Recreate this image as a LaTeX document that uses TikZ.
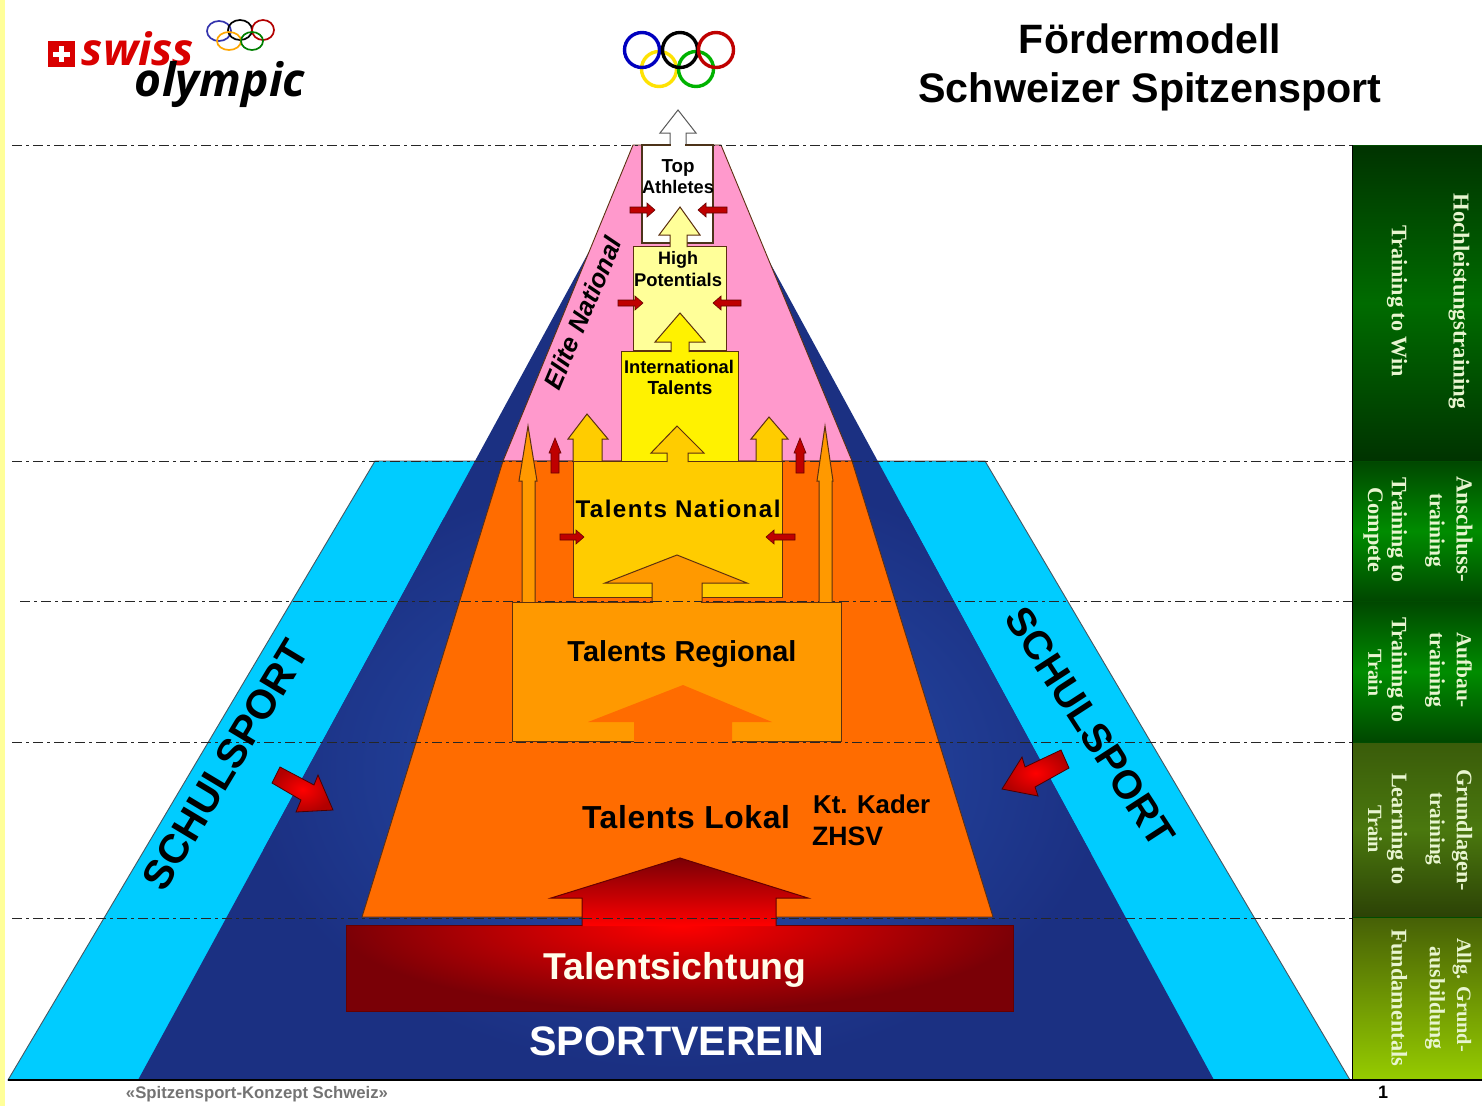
\documentclass[tikz,border=0pt]{standalone}
\usepackage{fontspec}
\usepackage{graphicx}
\setmainfont{Liberation Sans}
\setsansfont{Liberation Sans}
\newfontfamily\serifside{Liberation Serif}
\newfontfamily\logofont{Open Sans}
\definecolor{cyanband}{HTML}{00CCFF}
\definecolor{navybase}{HTML}{1B3082}
\definecolor{navyglow}{HTML}{2850B0}
\definecolor{pinkzone}{HTML}{FF99CC}
\definecolor{orangezone}{HTML}{FF6C00}
\definecolor{brownline}{HTML}{5C3010}
\definecolor{cream}{HTML}{FFFF99}
\definecolor{goldbox}{HTML}{FFCC00}
\definecolor{ambbox}{HTML}{FF9900}
\definecolor{darkred}{HTML}{7A0006}
\definecolor{sidetext}{HTML}{E8F5D0}
\definecolor{edgeyellow}{HTML}{FFFF99}
\newcommand{\fw}[2]{\resizebox{#1pt}{!}{\vphantom{Ag}#2}}
% block arrow: style, tip x, tip y, base y, head left, head right, shaft left, shaft right, end y
\newcommand{\blockarrow}[9]{\filldraw[#1] (#7,#9) -- (#7,#4) -- (#5,#4) -- (#2,#3) -- (#6,#4) -- (#8,#4) -- (#8,#9);}
\newcommand{\redh}[4]{\filldraw[smallred] (#1,#3-3) -- (#2+#4,#3-3) -- (#2+#4,#3-7) -- (#2,#3) -- (#2+#4,#3+7) -- (#2+#4,#3+3) -- (#1,#3+3) -- cycle;}
\newcommand{\sidetxt}[5]{\node[sidelabel] (#1) at (#2,#3) {\fw{#4}{#5}};}
\tikzset{
  x=1pt,y=-1pt,
  boxline/.style={draw=brownline,line width=1pt},
  arrowline/.style={draw=brownline,line width=1pt,line join=miter},
  smallred/.style={fill=red!75!black,draw=black!60!red,line width=.6pt},
  bigred/.style={draw=black!70!red,line width=.8pt,inner color=red,outer color=red!70!black},
  levelline/.style={black!85,line width=.8pt,dash pattern=on 10pt off 4pt on 3pt off 4pt},
  rlbl/.style={inner sep=0pt,font=\bfseries},
  lbl/.style={rlbl,yshift=-3pt},
  sidelabel/.style={inner sep=0pt,rotate=-90,text=sidetext,font=\serifside\bfseries},
  ringbig/.style={line width=3.4pt},
  ringsmall/.style={line width=1.7pt},
}
\begin{document}
\begin{tikzpicture}
\useasboundingbox (0,0) rectangle (1482,1106);
\fill[white] (0,0) rectangle (1482,1106);
\fill[edgeyellow] (0,0) rectangle (5,1106);

% zones
\filldraw[fill=cyanband,draw=black!70!cyan,line width=.9pt] (8,1080) -- (375,461) -- (985,461) -- (1350,1080) -- cycle;
\begin{scope}
  \clip (138,1080) -- (647,145) -- (706,145) -- (1214,1080) -- cycle;
  \fill[navybase] (100,100) rectangle (1250,1100);
  \shade[inner color=navyglow,outer color=navybase] (678,770) ellipse [x radius=430,y radius=300];
\end{scope}
\filldraw[fill=pinkzone,draw=brownline,line width=.9pt] (503,461) -- (633,145) -- (721,145) -- (852,461) -- cycle;
\filldraw[fill=orangezone,draw=brownline,line width=.9pt] (362,917) -- (503,461) -- (852,461) -- (993,917) -- cycle;

% level lines
\draw[levelline] (12,145) -- (1352,145);
\draw[levelline] (12,461) -- (1352,461);
\draw[levelline] (20,601) -- (1352,601);
\draw[levelline] (12,742) -- (1352,742);
\draw[levelline] (12,918) -- (1352,918);

% Top Athletes
\blockarrow{fill=white,draw=black!65,line width=1pt}{678}{110}{133}{660}{696}{670}{686}{145}
\filldraw[fill=white,draw=black!60!brown,line width=1.2pt] (642,145) rectangle (713,243);
\fill[white] (671,144) rectangle (685,147);
% High Potentials
\filldraw[fill=cream,boxline] (633,246) rectangle (726,350);
\blockarrow{fill=cream,arrowline}{680}{207}{235}{659}{700}{670}{687}{247}
% International Talents
\filldraw[fill=yellow,boxline] (621,351) rectangle (738,461);
\blockarrow{fill=yellow,arrowline}{680}{313}{342}{655}{705}{671}{689}{352}
% side arrows to the elite zone
\blockarrow{fill=goldbox,arrowline}{587}{414}{439}{568}{608}{573}{602}{462}
\blockarrow{fill=goldbox,arrowline}{769}{417}{439}{751}{788}{756}{782}{462}
% Talents National
\filldraw[fill=goldbox,boxline] (573,461) rectangle (782,597);
\blockarrow{fill=goldbox,arrowline}{677}{426}{453}{651}{704}{667}{688}{462}
\blockarrow{fill=ambbox,arrowline}{528}{426}{481}{519}{537}{522}{535}{602}
\blockarrow{fill=ambbox,arrowline}{825}{426}{481}{817}{833}{819}{832}{602}
% Talents Regional
\blockarrow{fill=ambbox,arrowline}{677}{555}{583}{605}{747}{652}{702}{603}
\filldraw[fill=ambbox,boxline] (512,602) rectangle (841,741);
\fill[ambbox] (653,600) rectangle (701,604);
\fill[orangezone] (588,722) -- (683,685) -- (772,722) -- (732,722) -- (732,743) -- (634,743) -- (634,722) -- cycle;

% Talentsichtung
\begin{scope}
  \clip (346,925) rectangle (1013,1011);
  \fill[darkred] (346,925) rectangle (1013,1011);
  \shade[inner color=red,outer color=darkred] (680,925) ellipse [x radius=340,y radius=86];
\end{scope}
\draw[draw=black!60!red,line width=1pt] (346,925) rectangle (1013,1011);
\shade[top color=darkred,bottom color=red] (680,858) -- (808,898) -- (776,898) -- (776,926) -- (582,926) -- (582,898) -- (551,898) -- cycle;
\draw[black!60!red,line width=1pt] (582,926) -- (582,898) -- (551,898) -- (680,858) -- (808,898) -- (776,898) -- (776,926);

% redraw the lines that show through
\draw[levelline] (582,918) -- (776,918);
\draw[levelline] (652,601) -- (702,601);
\draw[levelline] (634,742) -- (732,742);

% small red arrows
\redh{630}{655}{210}{-8}
\redh{727}{698}{210}{8}
\redh{618}{643}{303}{-8}
\redh{741}{713}{303}{8}
\redh{560}{584}{537}{-8}
\redh{795}{766}{537}{8}
\filldraw[smallred] (551,473) -- (551,453) -- (549,453) -- (555,438) -- (561,453) -- (559,453) -- (559,473) -- cycle;
\filldraw[smallred] (796,473) -- (796,453) -- (794,453) -- (800,438) -- (806,453) -- (804,453) -- (804,473) -- cycle;

% large red arrows
\shade[bigred] (280,767) -- (314,785) -- (318,775) -- (333,810) -- (296,812) -- (301,800) -- (272,783) -- cycle;
\shade[bigred] (1061,750) -- (1069,768) -- (1035,787) -- (1038,796) -- (1002,789) -- (1022,757) -- (1025,767) -- cycle;

% side column
\shade[top color=green!20!black,bottom color=green!20!black,middle color=green!42!black] (1352,145) rectangle (1482,461);
\shade[top color=green!28!black,bottom color=green!28!black,middle color=green!55!black] (1352,461) rectangle (1482,601);
\shade[top color=green!28!black,bottom color=green!28!black,middle color=green!55!black] (1352,601) rectangle (1482,742);
\shade[top color={rgb,255:red,58;green,92;blue,10},bottom color={rgb,255:red,44;green,66;blue,6},middle color={rgb,255:red,74;green,120;blue,14}] (1352,742) rectangle (1482,917);
\shade[top color={rgb,255:red,70;green,96;blue,6},bottom color={rgb,255:red,150;green,204;blue,0}] (1352,917) rectangle (1482,1080);
\foreach \yy in {145,461,601,742,917}{\draw[black!70!green,line width=.9pt] (1352,\yy) -- (1482,\yy);}
\draw[black,line width=1pt] (1352,145) -- (1352,1080);
\draw[black,line width=1.2pt] (8,1080) -- (1482,1080);

\sidetxt{s1a}{1459}{301}{215}{Hochleistungstraining}
\sidetxt{s1b}{1397}{301}{152}{Training to Win}
\sidetxt{s2a}{1462}{529}{106}{Anschluss-}
\sidetxt{s2b}{1435}{530}{74}{training}
\sidetxt{s2c}{1397}{530}{105}{Training to}
\sidetxt{s2d}{1373}{530}{85}{Compete}
\sidetxt{s3a}{1462}{670}{76}{Aufbau-}
\sidetxt{s3b}{1435}{670}{75}{training}
\sidetxt{s3c}{1397}{670}{105}{Training to}
\sidetxt{s3d}{1373}{673}{47}{Train}
\sidetxt{s4a}{1462}{830}{122}{Grundlagen-}
\sidetxt{s4b}{1435}{829}{73}{training}
\sidetxt{s4c}{1397}{829}{112}{Learning to}
\sidetxt{s4d}{1373}{829}{48}{Train}
\sidetxt{s5a}{1462}{995}{114}{Allg. Grund-}
\sidetxt{s5b}{1435}{998}{103}{ausbildung}
\sidetxt{s5c}{1397}{998}{137}{Fundamentals}

% labels
\node[lbl] (top1) at (678,165) {\fw{33}{Top}};
\node[lbl] (top2) at (678,186) {\fw{72}{Athletes}};
\node[lbl] (hp1) at (678,257) {\fw{40}{High}};
\node[lbl] (hp2) at (678,279) {\fw{88}{Potentials}};
\node[lbl] (it1) at (679,366) {\fw{110}{International}};
\node[lbl] (it2) at (680,387) {\fw{65}{Talents}};
\node[rlbl,font=\bfseries\itshape,rotate=67] (elite) at (585,314) {\fw{162}{Elite National}};
\node[lbl] (tn) at (678,508) {\fw{205}{\addfontfeature{LetterSpace=6}Talents National}};
\node[lbl] (tr) at (682,651) {\fw{229}{Talents Regional}};
\node[lbl] (tl) at (686,817) {\fw{208}{\addfontfeature{LetterSpace=2}Talents Lokal}};
\node[lbl,anchor=west] (kt1) at (813,804) {\fw{117}{Kt. Kader}};
\node[lbl,anchor=west] (kt2) at (812,836) {\fw{71}{ZHSV}};
\node[lbl,text=white!92!yellow] (ts) at (675,967) {\fw{263}{Talentsichtung}};
\node[lbl,text=white] (sv) at (677,1042) {\fw{295}{SPORTVEREIN}};
\node[rlbl,rotate=59] (sl) at (229,767) {\fw{282}{SCHULSPORT}};
\node[rlbl,rotate=-57] (sr) at (1087,729) {\fw{276}{SCHULSPORT}};
\node[lbl,text=black!55] (foot) at (257,1091) {\fw{262}{«Spitzensport-Konzept Schweiz»}};
\node[lbl] (page) at (1383,1091) {\fw{10}{1}};
\node[lbl,yshift=-1pt] (t1) at (1150,39) {\fw{262}{Fördermodell}};
\node[lbl,yshift=-1pt] (t2) at (1150,88) {\fw{463}{Schweizer Spitzensport}};

% big rings
\draw[ringbig,yellow!85!orange] (659,69) ellipse [x radius=17.5,y radius=17.5];
\draw[ringbig,green!70!black] (696,69) ellipse [x radius=17.5,y radius=17.5];
\draw[ringbig,blue!75!black] (642,50) ellipse [x radius=17.5,y radius=17.5];
\draw[ringbig,black] (680,50) ellipse [x radius=17.5,y radius=17.5];
\draw[ringbig,red!75!black] (716,50) ellipse [x radius=17.5,y radius=17.5];

% logo
\fill[red!85!black] (48,41) rectangle (75,67);
\fill[white] (59,46) rectangle (64,62);
\fill[white] (53,51.5) rectangle (70,56.5);
\node[inner sep=0pt,text=red!85!black,font=\logofont\bfseries\itshape] (swiss) at (138,54) {\fw{112}{swiss}};
\node[inner sep=0pt,font=\logofont\bfseries\itshape] (oly) at (220,84) {\fw{170}{olympic}};
\draw[ringsmall,blue!60!black!80] (219,31) ellipse [x radius=12,y radius=10];
\draw[ringsmall,black] (240,30) ellipse [x radius=12,y radius=10];
\draw[ringsmall,red!70!black] (263,30) ellipse [x radius=11,y radius=10];
\draw[ringsmall,orange!70!yellow] (229,41) ellipse [x radius=12,y radius=9];
\draw[ringsmall,green!50!black] (252,41) ellipse [x radius=11,y radius=9];
\end{tikzpicture}
\end{document}
